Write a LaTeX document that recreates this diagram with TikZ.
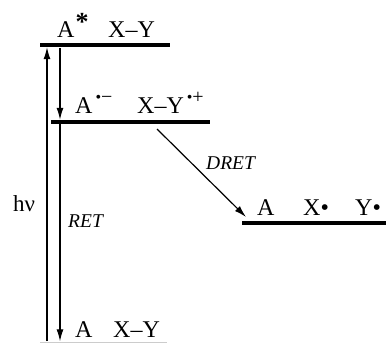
\documentclass[tikz,border=0pt]{standalone}
\usepackage{fontspec}
\setmainfont{Liberation Serif}
\usetikzlibrary{positioning,arrows.meta}

\newcommand{\radsup}[1]{\hspace{3pt}\raisebox{10pt}{\fontsize{20}{20}\selectfont\raisebox{1pt}{\fontsize{16}{16}\selectfont •}#1}}

\begin{document}
\begin{tikzpicture}[x=1pt, y=-1pt,
    level/.style={fill=black, inner sep=0pt, minimum height=4pt},
    species/.style={font=\fontsize{24}{28}\selectfont, inner sep=0pt, anchor=base west},
    trans/.style={-{Latex[length=12pt,width=7pt]}, line width=1.2pt},
    tlabel/.style={font=\fontsize{19.5}{22}\selectfont\itshape, inner sep=0pt, anchor=base west},
    >=Latex
]
\useasboundingbox (0,0) rectangle (386,343);

% energy levels
\node[level, minimum width=130pt] (excited) at (105,45) {};
\node[level, minimum width=159pt] (csep) at (130.5,122) {};
\node[level, minimum width=144pt] (diss) at (314,223) {};
\node[level, fill=black!20, minimum height=1pt, minimum width=127pt] (ground) at (103.5,342) {};

% species on the levels
\node[species] (exA) at (57,37) {A\hspace{1pt}\raisebox{7pt}{\fontsize{26}{26}\selectfont\bfseries *}};
\node[species] (exXY) at (108,37) {X–Y};
\node[species] (csA) at (75,113) {A\radsup{−}};
\node[species] (csXY) at (137,113) {X–Y\radsup{+}};
\node[species] (dA) at (257,215) {A};
\node[species] (dX) at (303,215) {X•};
\node[species] (dY) at (355,215) {Y•};
\node[species] (gA) at (75,337) {A};
\node[species] (gXY) at (113,337) {X–Y};

% transitions
\coordinate (hnubase) at (47,341);
\coordinate (relax) at (60,48);
\coordinate (dretstart) at (157,129);
\coordinate (dretend) at (246,217);
\draw[trans] (hnubase) -- (hnubase |- excited.south);
\draw[trans] (relax) -- (relax |- csep.north);
\draw[trans] (relax |- csep.south) -- (relax |- ground.north);
\draw[trans] (dretstart) -- (dretend);

\node[species, font=\fontsize{23}{27}\selectfont] (hnu) at (13,211) {hν};
\node[tlabel] (ret) at (68,227) {RET};
\node[tlabel] (dret) at (206,169) {DRET};
\end{tikzpicture}
\end{document}
